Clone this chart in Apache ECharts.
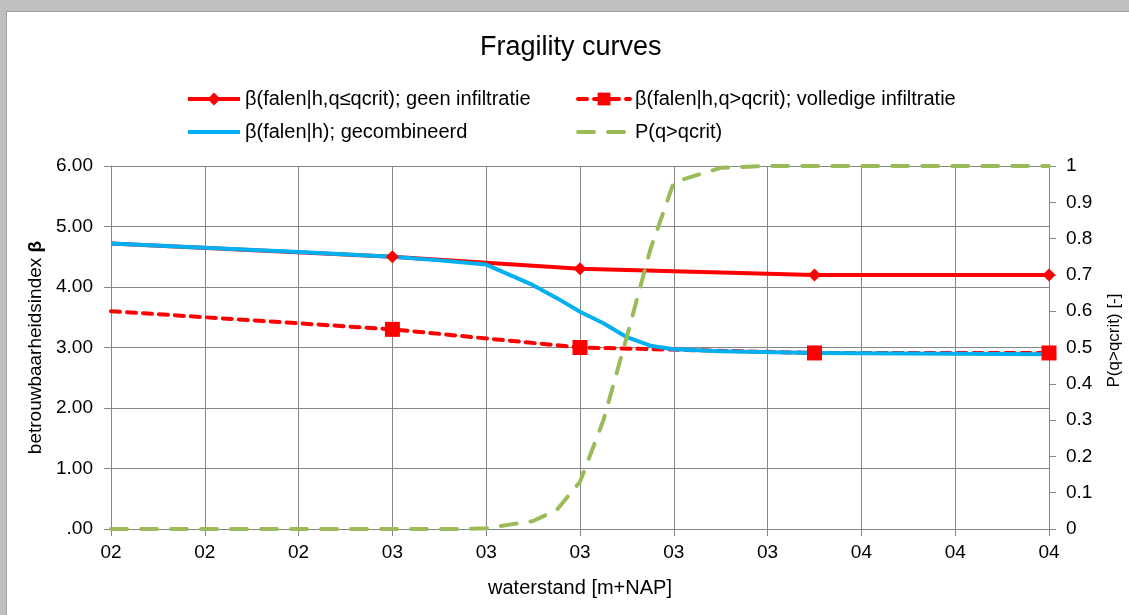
<!DOCTYPE html>
<html>
<head>
<meta charset="utf-8">
<script src="https://cdn.jsdelivr.net/npm/echarts@6/dist/echarts.min.js"></script>
<style>
  html, body { margin:0; padding:0; width:1129px; height:615px; background:#c0c0c0; overflow:hidden; }
  #frame { position:absolute; left:6px; top:11px; right:0; bottom:0; background:#fff; border-left:1px solid #a0a0a0; border-top:1px solid #a0a0a0; }
  #chart { position:absolute; left:0; top:0; width:1129px; height:615px; }
</style>
</head>
<body>
<div id="frame"></div>
<div id="chart"></div>
<script>
// ---- data ----
const xRedSolid = [2.0, 2.6, 3.0, 3.5, 4.0];
const yRedSolid = [4.72, 4.50, 4.30, 4.20, 4.20];

const xRedDash = [2.0, 2.6, 3.0, 3.5, 4.0];
const yRedDash = [3.60, 3.30, 3.00, 2.91, 2.91];

const xBlue = [2.0, 2.2, 2.4, 2.6, 2.7, 2.8, 2.85, 2.9, 2.95, 3.0, 3.05, 3.1, 3.15, 3.2, 3.3, 3.5, 4.0];
const yBlue = [4.72, 4.65, 4.58, 4.50, 4.44, 4.37, 4.20, 4.03, 3.82, 3.59, 3.40, 3.17, 3.03, 2.97, 2.94, 2.91, 2.89];

const xGreen = [2.0, 2.75, 2.8, 2.85, 2.9, 2.95, 3.0, 3.05, 3.1, 3.15, 3.2, 3.3, 3.4, 4.0];
const yGreen = [0, 0, 0.002, 0.012, 0.022, 0.052, 0.13, 0.30, 0.53, 0.77, 0.955, 0.995, 1.0, 1.0];

const seriesNames = [
  'β(falen|h,q≤qcrit); geen infiltratie',
  'β(falen|h,q>qcrit); volledige infiltratie',
  'β(falen|h); gecombineerd',
  'P(q>qcrit)'
];
const titleText = 'Fragility curves';
const xAxisName = 'waterstand [m+NAP]';
const yLeftName = 'betrouwbaarheidsindex ';
const yRightName = 'P(q>qcrit) [-]';

function zip(xs, ys) { return xs.map((x, i) => [x, ys[i]]); }
function markerData(xs, ys) {
  return xs.map((x, i) => i === 0 ? { value: [x, ys[i]], symbol: 'none' } : [x, ys[i]]);
}

const FONT = '"Liberation Sans", sans-serif';
const TXT = '#000';
const AX = '#868686';

const chart = echarts.init(document.getElementById('chart'), null, { renderer: 'canvas' });

const legendPos = [[186, 89], [576, 89], [186, 122], [576, 122]];
const legendHideSymbol = [false, false, true, true];

chart.setOption({
  backgroundColor: 'transparent',
  animation: false,
  textStyle: { fontFamily: FONT },
  title: {
    text: titleText, left: 480, top: 34, padding: 0,
    textStyle: { fontFamily: FONT, fontSize: 27, fontWeight: 'normal', color: TXT }
  },
  legend: seriesNames.map((n, i) => ({
    data: [n], left: legendPos[i][0], top: legendPos[i][1], itemWidth: 52, itemHeight: 16,
    padding: 0, itemGap: 0,
    lineStyle: { width: 4 },
    itemStyle: legendHideSymbol[i] ? { opacity: 0 } : {},
    textStyle: { fontFamily: FONT, fontSize: 20, color: TXT }
  })),
  grid: { left: 111, right: 80, top: 166, bottom: 86, containLabel: false, outerBoundsMode: 'none' },
  xAxis: {
    type: 'value', min: 2.0, max: 4.0, interval: 0.2,
    name: xAxisName, nameLocation: 'middle', nameGap: 49,
    nameTextStyle: { fontFamily: FONT, fontSize: 20, color: TXT },
    axisLine: { show: true, lineStyle: { color: AX, width: 1 } },
    axisTick: { show: true, inside: false, length: 7, lineStyle: { color: AX } },
    axisLabel: { fontFamily: FONT, fontSize: 19, color: TXT, margin: 14,
      formatter: v => '0' + Math.round(v) },
    splitLine: { show: true, lineStyle: { color: AX, width: 1 } }
  },
  yAxis: [{
    type: 'value', min: 0, max: 6, interval: 1, position: 'left',
    name: '{n|' + yLeftName + '}{b|β}', nameLocation: 'middle', nameGap: 61, nameRotate: 90,
    nameTextStyle: { rich: {
      n: { fontFamily: FONT, fontSize: 19, color: TXT },
      b: { fontFamily: FONT, fontSize: 19, color: TXT, fontWeight: 'bold' } } },
    axisLine: { show: true, lineStyle: { color: AX, width: 1 } },
    axisTick: { show: true, inside: false, length: 7, lineStyle: { color: AX } },
    axisLabel: { fontFamily: FONT, fontSize: 19, color: TXT, margin: 18,
      formatter: v => v === 0 ? '.00' : v.toFixed(2) },
    splitLine: { show: true, lineStyle: { color: AX, width: 1 } }
  }, {
    type: 'value', min: 0, max: 1, interval: 0.1, position: 'right',
    name: yRightName, nameLocation: 'middle', nameGap: 57, nameRotate: 90,
    nameTextStyle: { fontFamily: FONT, fontSize: 17, color: TXT, padding: [0, 0, 0, 14] },
    axisLine: { show: true, lineStyle: { color: AX, width: 1 } },
    axisTick: { show: true, inside: false, length: 7, lineStyle: { color: AX } },
    axisLabel: { fontFamily: FONT, fontSize: 19, color: TXT, margin: 17,
      formatter: v => String(Math.round(v * 10) / 10) },
    splitLine: { show: false }
  }],
  series: [{
    name: seriesNames[0], type: 'line', yAxisIndex: 0,
    data: markerData(xRedSolid, yRedSolid),
    symbol: 'diamond', symbolSize: 13, showAllSymbol: true,
    itemStyle: { color: '#ff0000' },
    lineStyle: { color: '#ff0000', width: 4 }
  }, {
    name: seriesNames[1], type: 'line', yAxisIndex: 0,
    data: markerData(xRedDash, yRedDash),
    symbol: 'rect', symbolSize: 15, showAllSymbol: true,
    itemStyle: { color: '#ff0000' },
    lineStyle: { color: '#ff0000', width: 4, type: [9, 7], cap: 'round' }
  }, {
    name: seriesNames[2], type: 'line', yAxisIndex: 0,
    data: zip(xBlue, yBlue), symbol: 'none',
    itemStyle: { color: '#00b0f0' },
    lineStyle: { color: '#00b0f0', width: 4, join: 'round' }
  }, {
    name: seriesNames[3], type: 'line', yAxisIndex: 1,
    data: zip(xGreen, yGreen), symbol: 'none',
    itemStyle: { color: '#9bbb59' },
    lineStyle: { color: '#9bbb59', width: 4, type: [16, 14], cap: 'round' }
  }]
});
</script>
</body>
</html>
